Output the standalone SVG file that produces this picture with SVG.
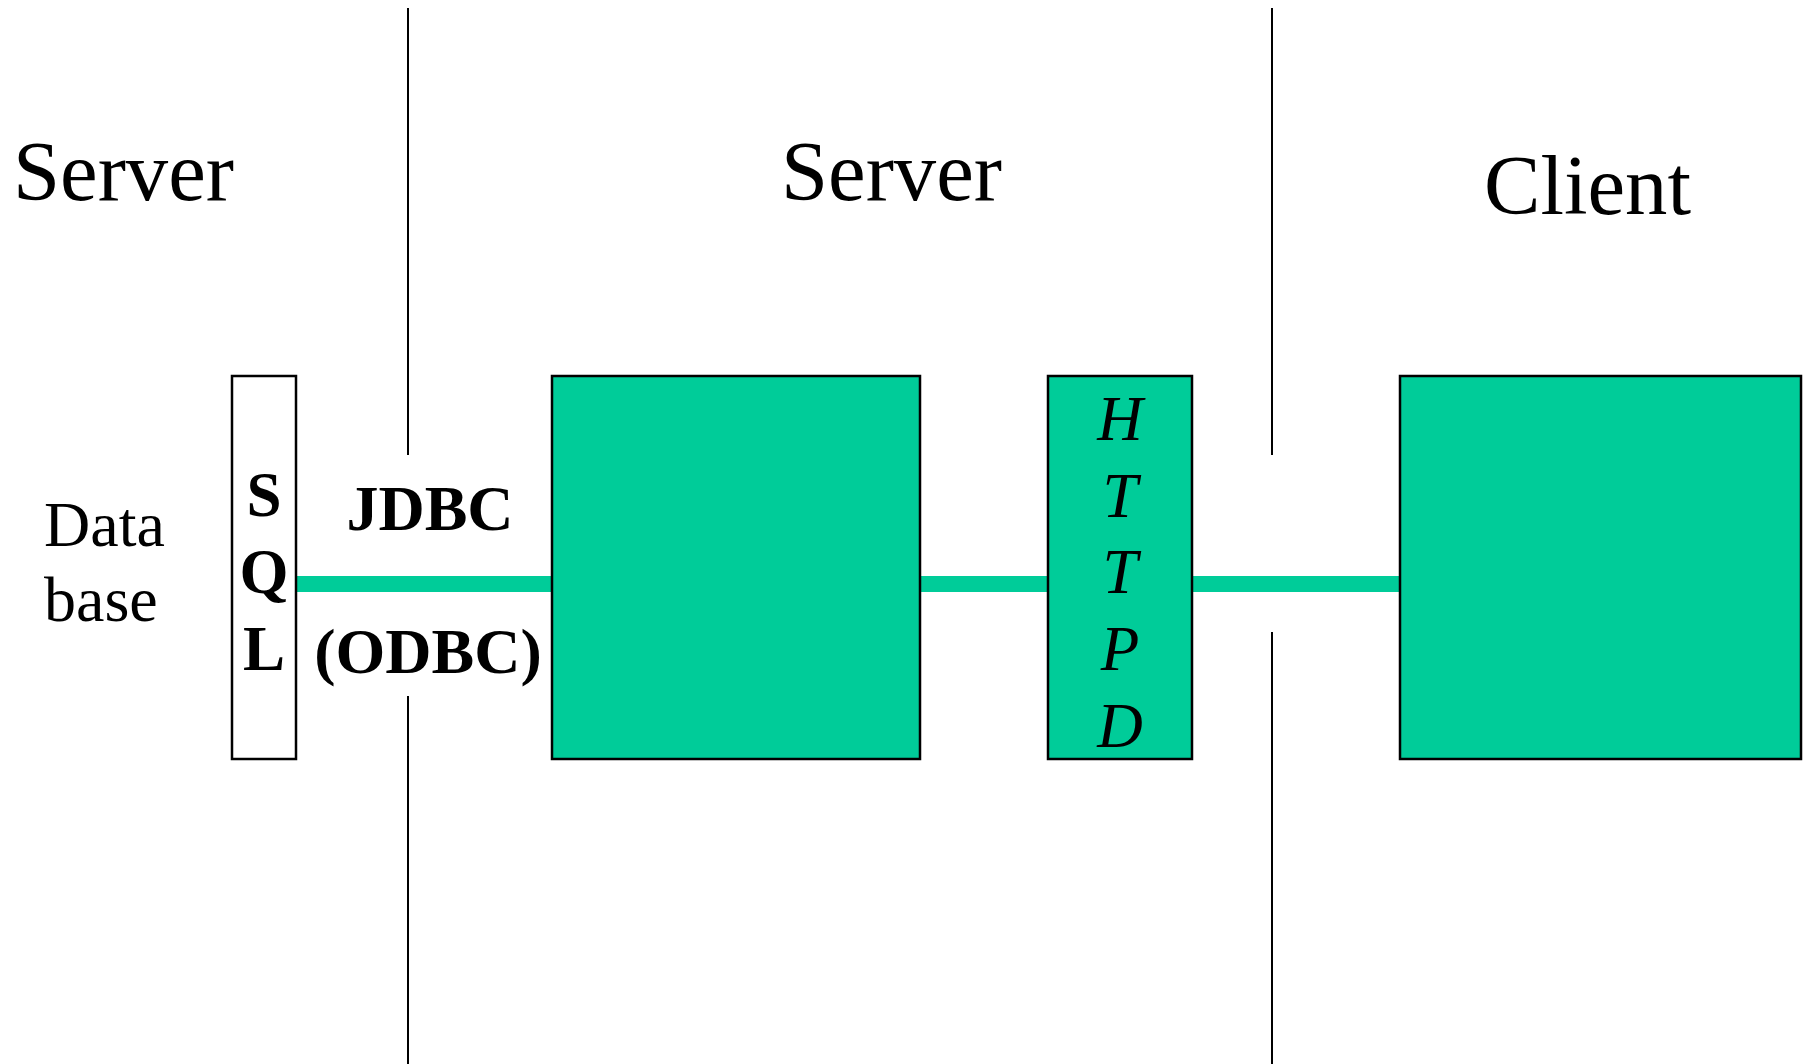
<svg xmlns="http://www.w3.org/2000/svg" width="1806" height="1064" viewBox="0 0 1806 1064">
<style>
.box{fill:#00CC99;stroke:#000;stroke-width:2.5}
.wbox{fill:#fff;stroke:#000;stroke-width:2.5}
.div{stroke:#000;stroke-width:2;fill:none}
.bar{stroke:#00CC99;stroke-width:16;fill:none}
.t{font-family:"Liberation Serif","Times New Roman",serif;fill:#000}
.h{font-size:85px}
.lbl{font-size:64px}
.b{font-size:63px;font-weight:bold}
.i{font-size:63px;font-style:italic}
</style>
<rect width="1806" height="1064" fill="#fff"/>
<g id="dividers">
<line class="div" x1="408" y1="8" x2="408" y2="455"/>
<line class="div" x1="408" y1="696" x2="408" y2="1064"/>
<line class="div" x1="1272" y1="8" x2="1272" y2="455"/>
<line class="div" x1="1272" y1="632" x2="1272" y2="1064"/>
</g>
<g id="headings">
<text class="t h" x="13" y="200" textLength="221" lengthAdjust="spacingAndGlyphs">Server</text>
<text class="t h" x="781" y="200" textLength="221" lengthAdjust="spacingAndGlyphs">Server</text>
<text class="t h" x="1484" y="214" textLength="207" lengthAdjust="spacingAndGlyphs">Client</text>
</g>
<g id="database">
<text class="t lbl" x="44" y="546">Data</text>
<text class="t lbl" x="44" y="621">base</text>
</g>
<g id="connectors">
<line class="bar" x1="296" y1="584" x2="552" y2="584"/>
<line class="bar" x1="920" y1="584" x2="1048" y2="584"/>
<line class="bar" x1="1192" y1="584" x2="1400" y2="584"/>
</g>
<g id="sql">
<rect class="wbox" x="232" y="376" width="64" height="383"/>
<text class="t b" x="264" y="516" text-anchor="middle">S</text>
<text class="t b" x="264" y="593" text-anchor="middle">Q</text>
<text class="t b" x="264" y="670" text-anchor="middle">L</text>
</g>
<g id="jdbc-label">
<text class="t b" x="430" y="530" text-anchor="middle" style="font-size:64px">JDBC</text>
<text class="t b" x="428" y="673" text-anchor="middle" style="font-size:64px">(ODBC)</text>
</g>
<g id="server-box">
<rect class="box" x="552" y="376" width="368" height="383"/>
</g>
<g id="httpd">
<rect class="box" x="1048" y="376" width="144" height="383"/>
<text class="t i" x="1120" y="440" text-anchor="middle">H</text>
<text class="t i" x="1120" y="517" text-anchor="middle">T</text>
<text class="t i" x="1120" y="593" text-anchor="middle">T</text>
<text class="t i" x="1120" y="670" text-anchor="middle">P</text>
<text class="t i" x="1120" y="747" text-anchor="middle">D</text>
</g>
<g id="client-box">
<rect class="box" x="1400" y="376" width="401" height="383"/>
</g>
</svg>
